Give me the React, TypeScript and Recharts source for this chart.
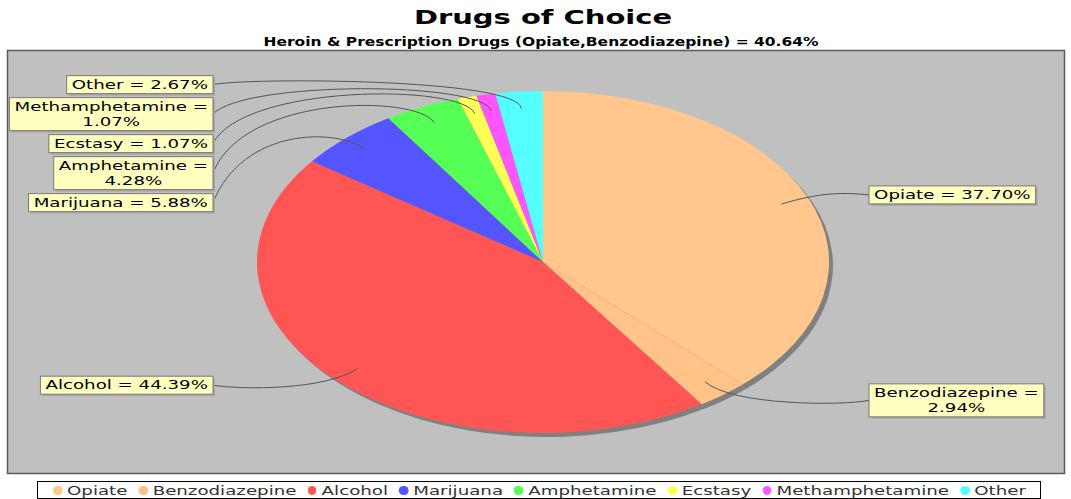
import React from 'react';
import { PieChart, Pie, Cell, Legend } from 'recharts';

// chart data
const drugs = [
  'Opiate', 'Benzodiazepine', 'Alcohol', 'Marijuana',
  'Amphetamine', 'Ecstasy', 'Methamphetamine', 'Other'
];
const shares = [37.70, 2.94, 44.39, 5.88, 4.28, 1.07, 1.07, 2.67];
const colors = [
  '#FFC68E', '#FFC287', '#FF5555', '#5555FF',
  '#55FF55', '#FFFF55', '#FF55FF', '#55FFFF'
];
const chartTitle = 'Drugs of Choice';
const chartSubtitle = 'Heroin & Prescription Drugs (Opiate,Benzodiazepine) = 40.64%';

const W = 1071;
const H = 499;
const CX = 543;
const CY = 262;
const RADIUS = 171;
const SX = 286 / 171; // the pie is drawn as an ellipse
const TEXT_SX = 1.4; // text in the original is stretched sideways
const FONT = '"DejaVu Sans", Verdana, sans-serif';

const data = drugs.map((name, i) => ({ name, value: shares[i] }));

const labelLines = (name: string, v: number): string[] => {
  const t = `${name} = ${v.toFixed(2)}%`;
  return t.length > 18 ? [`${name} =`, `${v.toFixed(2)}%`] : [t];
};

let ctx: CanvasRenderingContext2D | null = null;
const textWidth = (s: string, size: number) => {
  if (!ctx) ctx = document.createElement('canvas').getContext('2d');
  if (!ctx) return s.length * size * 0.6;
  ctx.font = `${size}px ${FONT}`;
  return ctx.measureText(s).width;
};

// work out where the label boxes go (stacked so they don't overlap)
const LABEL_R = 178;
const LEFT_EDGE = 213;
const RIGHT_EDGE = 869;
const LINE_H = 15;
const GAP = 4;

const buildLayout = () => {
  const total = shares.reduce((a, b) => a + b, 0);
  let cum = 0;
  const items = shares.map((v, i) => {
    const mid = 90 - (360 * (cum + v / 2)) / total;
    cum += v;
    const rad = (mid * Math.PI) / 180;
    const lines = labelLines(drugs[i], v);
    const h = lines.length * LINE_H + 3;
    const w = Math.max(...lines.map(l => textWidth(l, 13))) * TEXT_SX + 10;
    return {
      index: i, lines, h, w,
      left: Math.cos(rad) < 0,
      natural: CY - Math.sin(rad) * LABEL_R,
      top: 0,
    };
  });
  [true, false].forEach(side => {
    let prevBottom = -Infinity;
    items
      .filter(it => it.left === side)
      .sort((a, b) => a.natural - b.natural)
      .forEach(it => {
        it.top = Math.max(it.natural - it.h / 2, prevBottom + GAP);
        prevBottom = it.top + it.h;
      });
  });
  return items;
};

const renderLabel = (layout: any[]) => (props: any) => {
  const { cx, cy, midAngle, outerRadius, index } = props;
  const L = layout[index];
  const rad = (midAngle * Math.PI) / 180;
  const cos = Math.cos(rad);
  const sin = Math.sin(rad);
  const rx = outerRadius * SX;
  const linkX = cx + cos * rx * 0.9;
  const linkY = cy - sin * outerRadius * 0.9;
  const elbowX = cx + cos * (rx + 14);
  const elbowY = cy - sin * (outerRadius + 14);
  const anchorX = L.left ? cx - rx - 14 : cx + rx + 14;
  const targetX = L.left ? LEFT_EDGE : RIGHT_EDGE;
  const targetY = L.top + L.h / 2;
  const boxX = L.left ? LEFT_EDGE - L.w : RIGHT_EDGE;
  return (
    <g>
      <path
        d={`M${linkX},${linkY} C${elbowX},${elbowY} ${anchorX},${elbowY} ${targetX},${targetY}`}
        fill="none"
        stroke="#555"
        strokeWidth={1}
      />
      <rect x={boxX + 2} y={L.top + 2} width={L.w} height={L.h} fill="#A8A8A8" />
      <rect x={boxX} y={L.top} width={L.w} height={L.h} fill="#FFFFC0" stroke="#777" strokeWidth={1} />
      {L.lines.map((line: string, k: number) => (
        <text
          key={k}
          transform={`translate(${boxX + L.w / 2},${L.top + 13 + k * LINE_H}) scale(${TEXT_SX},1)`}
          textAnchor="middle"
          fontFamily={FONT}
          fontSize={13}
          fill="#000"
        >
          {line}
        </text>
      ))}
    </g>
  );
};

const renderLegend = () => (
  <div
    style={{
      border: '1px solid #000',
      background: '#fff',
      height: 16,
      display: 'flex',
      alignItems: 'center',
      justifyContent: 'center',
      overflow: 'hidden',
    }}
  >
    <div
      style={{
        display: 'flex',
        alignItems: 'center',
        whiteSpace: 'nowrap',
        transform: `scaleX(${TEXT_SX})`,
        transformOrigin: 'center',
        fontFamily: FONT,
        fontSize: 13,
        color: '#333',
      }}
    >
      {drugs.map((d, i) => (
        <span key={d} style={{ display: 'flex', alignItems: 'center', marginRight: i < drugs.length - 1 ? 8 : 0 }}>
          <span
            style={{
              display: 'inline-block',
              width: 6.5,
              height: 9,
              borderRadius: '50%',
              background: colors[i],
              marginRight: 3.5,
            }}
          />
          {d}
        </span>
      ))}
    </div>
  </div>
);

const App = () => {
  const layout = buildLayout();
  return (
    <div style={{ position: 'absolute', left: 0, top: 0, width: W, height: H, background: '#fff' }}>
      <style>{`
        .pie-main .recharts-sector { transform: scaleX(${SX}); transform-origin: ${CX}px ${CY}px; }
        .pie-shadow .recharts-sector { transform: scaleX(${SX}); transform-origin: ${CX + 4}px ${CY + 4}px; }
      `}</style>
      <svg width={W} height={H} style={{ position: 'absolute', left: 0, top: 0 }}>
        <text
          transform={`translate(${CX},24) scale(1.45,1)`}
          textAnchor="middle"
          fontFamily={FONT}
          fontWeight="bold"
          fontSize={20}
          fill="#000"
        >
          {chartTitle}
        </text>
        <text
          transform={`translate(${CX - 2},46) scale(1.24,1)`}
          textAnchor="middle"
          fontFamily={FONT}
          fontWeight="bold"
          fontSize={12.5}
          fill="#000"
        >
          {chartSubtitle}
        </text>
        <rect x={7.5} y={50.5} width={1057} height={423} fill="#C0C0C0" stroke="#5A5A5A" strokeWidth={1.5} />
      </svg>
      <div style={{ position: 'absolute', left: 0, top: 0 }}>
        <PieChart width={W} height={H} margin={{ top: 0, right: 0, bottom: 0, left: 0 }}>
          <Pie
            className="pie-shadow"
            data={data}
            dataKey="value"
            nameKey="name"
            cx={CX + 4}
            cy={CY + 4}
            outerRadius={RADIUS}
            startAngle={90}
            endAngle={-270}
            stroke="none"
            fill="#808080"
            isAnimationActive={false}
            legendType="none"
          />
          <Pie
            className="pie-main"
            data={data}
            dataKey="value"
            nameKey="name"
            cx={CX}
            cy={CY}
            outerRadius={RADIUS}
            startAngle={90}
            endAngle={-270}
            stroke="none"
            isAnimationActive={false}
            label={renderLabel(layout)}
            labelLine={false}
          >
            {data.map((d, i) => (
              <Cell key={d.name} fill={colors[i]} />
            ))}
          </Pie>
          <Legend
            content={renderLegend}
            wrapperStyle={{ position: 'absolute', left: 37, top: 481, width: 1004, bottom: 'auto' }}
          />
        </PieChart>
      </div>
    </div>
  );
};

export default App;
